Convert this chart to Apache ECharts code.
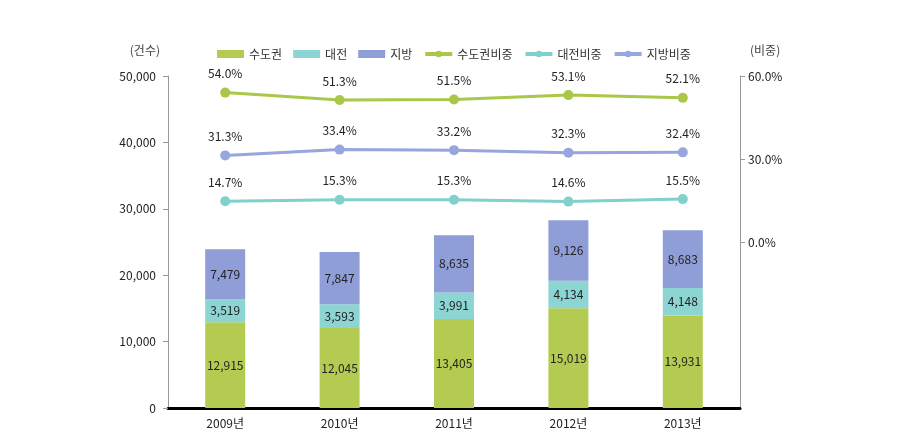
<!DOCTYPE html>
<html><head><meta charset="utf-8">
<script src="https://cdn.jsdelivr.net/npm/echarts@6/dist/echarts.min.js"></script>
<style>html,body{margin:0;padding:0;background:#fff}#c{width:917px;height:447px}</style>
</head><body><div id="c"></div>
<script>
const categories = ['2009년','2010년','2011년','2012년','2013년'];
const metro = [12915, 12045, 13405, 15019, 13931];
const daejeon = [3519, 3593, 3991, 4134, 4148];
const regional = [7479, 7847, 8635, 9126, 8683];
const metroShare = [54.0, 51.3, 51.5, 53.1, 52.1];
const daejeonShare = [14.7, 15.3, 15.3, 14.6, 15.5];
const regionalShare = [31.3, 33.4, 33.2, 32.3, 32.4];
const leftTicks = [0, 10000, 20000, 30000, 40000, 50000];
const rightTicks = [0, 30, 60];

const FONT = "'Liberation Sans Narrow','Noto Sans CJK KR',sans-serif";
const C = {g:'#b4cb52', c:'#8dd5d3', b:'#8f9ed6', gl:'#a9c748', cl:'#80d0cc', bl:'#97a6dc'};
const chart = echarts.init(document.getElementById('c'));
const barLabel = {show:true, position:'inside', color:'#222', fontSize:12, fontFamily:FONT,
  formatter: p => p.value.toLocaleString('en-US')};
const lineLabel = {show:true, position:'top', distance:8, color:'#222', fontSize:12, fontFamily:FONT,
  formatter: p => p.value.toFixed(1) + '%'};
function bar(name, data, color){
  return {name, type:'bar', stack:'t', data, barWidth:40, itemStyle:{color}, label:barLabel, yAxisIndex:0};
}
function line(name, data, color){
  return {name, type:'line', data, yAxisIndex:1, symbol:'circle', symbolSize:10,
    lineStyle:{color, width:3}, itemStyle:{color}, label:lineLabel};
}
chart.setOption({
  animation:false,
  textStyle:{fontFamily:FONT},
  grid:{left:168, right:177, top:76, bottom:39},
  legend:{top:43, left:212, itemWidth:27, itemHeight:8, itemGap:11,
    textStyle:{fontSize:12, color:'#333', fontFamily:FONT},
    data:[
      {name:'수도권', icon:'rect'},{name:'대전', icon:'rect'},{name:'지방', icon:'rect'},
      {name:'수도권비중', lineStyle:{width:4}},{name:'대전비중', lineStyle:{width:4}},{name:'지방비중', lineStyle:{width:4}}]},
  xAxis:{type:'category', data:categories,
    axisLine:{lineStyle:{color:'#000', width:3}}, axisTick:{show:false},
    axisLabel:{color:'#222', fontSize:12, margin:9, fontFamily:FONT}},
  yAxis:[
    {type:'value', min:0, max:50000, interval:10000, name:'(건수)', nameLocation:'end',
     nameGap:20, nameTextStyle:{color:'#444', fontSize:12, align:'right', padding:[0,8,0,0]},
     axisLine:{show:true, lineStyle:{color:'#999'}},
     axisTick:{show:true, length:5, lineStyle:{color:'#999'}},
     splitLine:{show:false},
     axisLabel:{color:'#222', fontSize:12, margin:12, formatter:v=>v.toLocaleString('en-US')}},
    {type:'value', min:-60, max:60, interval:30, position:'right', name:'(비중)', nameLocation:'end',
     nameGap:20, nameTextStyle:{color:'#444', fontSize:12, align:'left', padding:[0,0,0,10]},
     axisLine:{show:true, lineStyle:{color:'#999'}},
     axisTick:{show:true, length:5, lineStyle:{color:'#999'}, customValues:rightTicks},
     splitLine:{show:false},
     axisLabel:{color:'#222', fontSize:12, margin:8, customValues:rightTicks,
       formatter:v=> v.toFixed(1)+'%'}}
  ],
  series:[
    bar('수도권', metro, C.g), bar('대전', daejeon, C.c), bar('지방', regional, C.b),
    line('수도권비중', metroShare, C.gl), line('대전비중', daejeonShare, C.cl), line('지방비중', regionalShare, C.bl)
  ]
});
</script></body></html>
